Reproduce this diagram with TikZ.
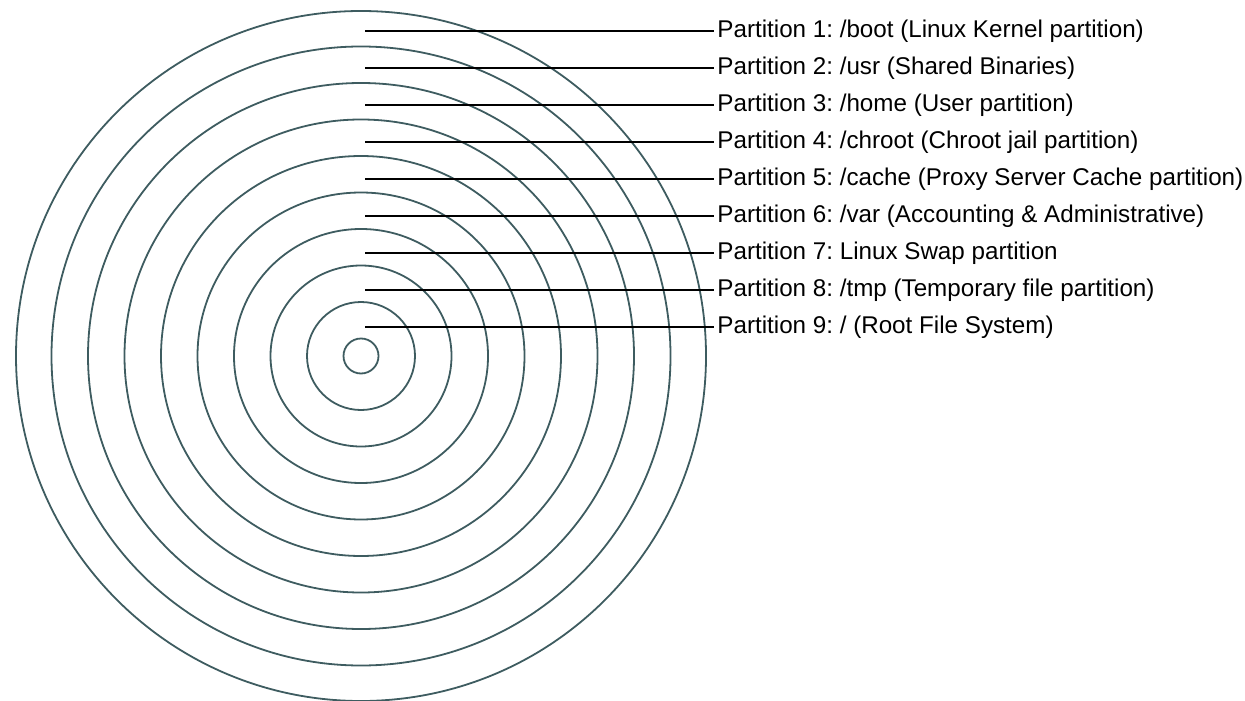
\documentclass[tikz,border=0pt]{standalone}
\usepackage{fontspec}
\setmainfont{Liberation Sans}
\usepackage{tikz}
\usetikzlibrary{positioning}
\definecolor{ringgray}{RGB}{62,92,96}
\frenchspacing
\tikzset{
  ring/.style={draw=ringgray, line width=0.9pt},
  leader/.style={draw=black, line width=1.1pt},
  partlabel/.style={anchor=west, inner sep=1.5pt, font=\fontsize{12.1}{14}\selectfont}
}

\begin{document}
\begin{tikzpicture}[x=0.5pt, y=-0.5pt]
\useasboundingbox (0,0) rectangle (1245,700);

% concentric partitions
\coordinate (centre) at (361,356);
\foreach \r in {17.5,54,90.5,127,163.5,200,236.5,273,309.5,345}
  \draw [ring] (centre) circle (\r);

% label nodes
\node [partlabel] (p1) at (714,31)  {Partition 1: /boot (Linux Kernel partition)};
\node [partlabel] (p2) at (714,68)  {Partition 2: /usr (Shared Binaries)};
\node [partlabel] (p3) at (714,105) {Partition 3: /home (User partition)};
\node [partlabel] (p4) at (714,142) {Partition 4: /chroot (Chroot jail partition)};
\node [partlabel] (p5) at (714,179) {Partition 5: /cache (Proxy Server Cache partition)};
\node [partlabel] (p6) at (714,216) {Partition 6: /var (Accounting \& Administrative)};
\node [partlabel] (p7) at (714,253) {Partition 7: Linux Swap partition};
\node [partlabel] (p8) at (714,290) {Partition 8: /tmp (Temporary file partition)};
\node [partlabel] (p9) at (714,327) {Partition 9: / (Root File System)};

% leader lines
\coordinate (s1) at (365,31);
\coordinate (s2) at (365,68);
\coordinate (s3) at (365,105);
\coordinate (s4) at (365,142);
\coordinate (s5) at (365,179);
\coordinate (s6) at (365,216);
\coordinate (s7) at (365,253);
\coordinate (s8) at (365,290);
\coordinate (s9) at (365,327);
\draw [leader] (s1) -- (p1.west);
\draw [leader] (s2) -- (p2.west);
\draw [leader] (s3) -- (p3.west);
\draw [leader] (s4) -- (p4.west);
\draw [leader] (s5) -- (p5.west);
\draw [leader] (s6) -- (p6.west);
\draw [leader] (s7) -- (p7.west);
\draw [leader] (s8) -- (p8.west);
\draw [leader] (s9) -- (p9.west);
\end{tikzpicture}
\end{document}
